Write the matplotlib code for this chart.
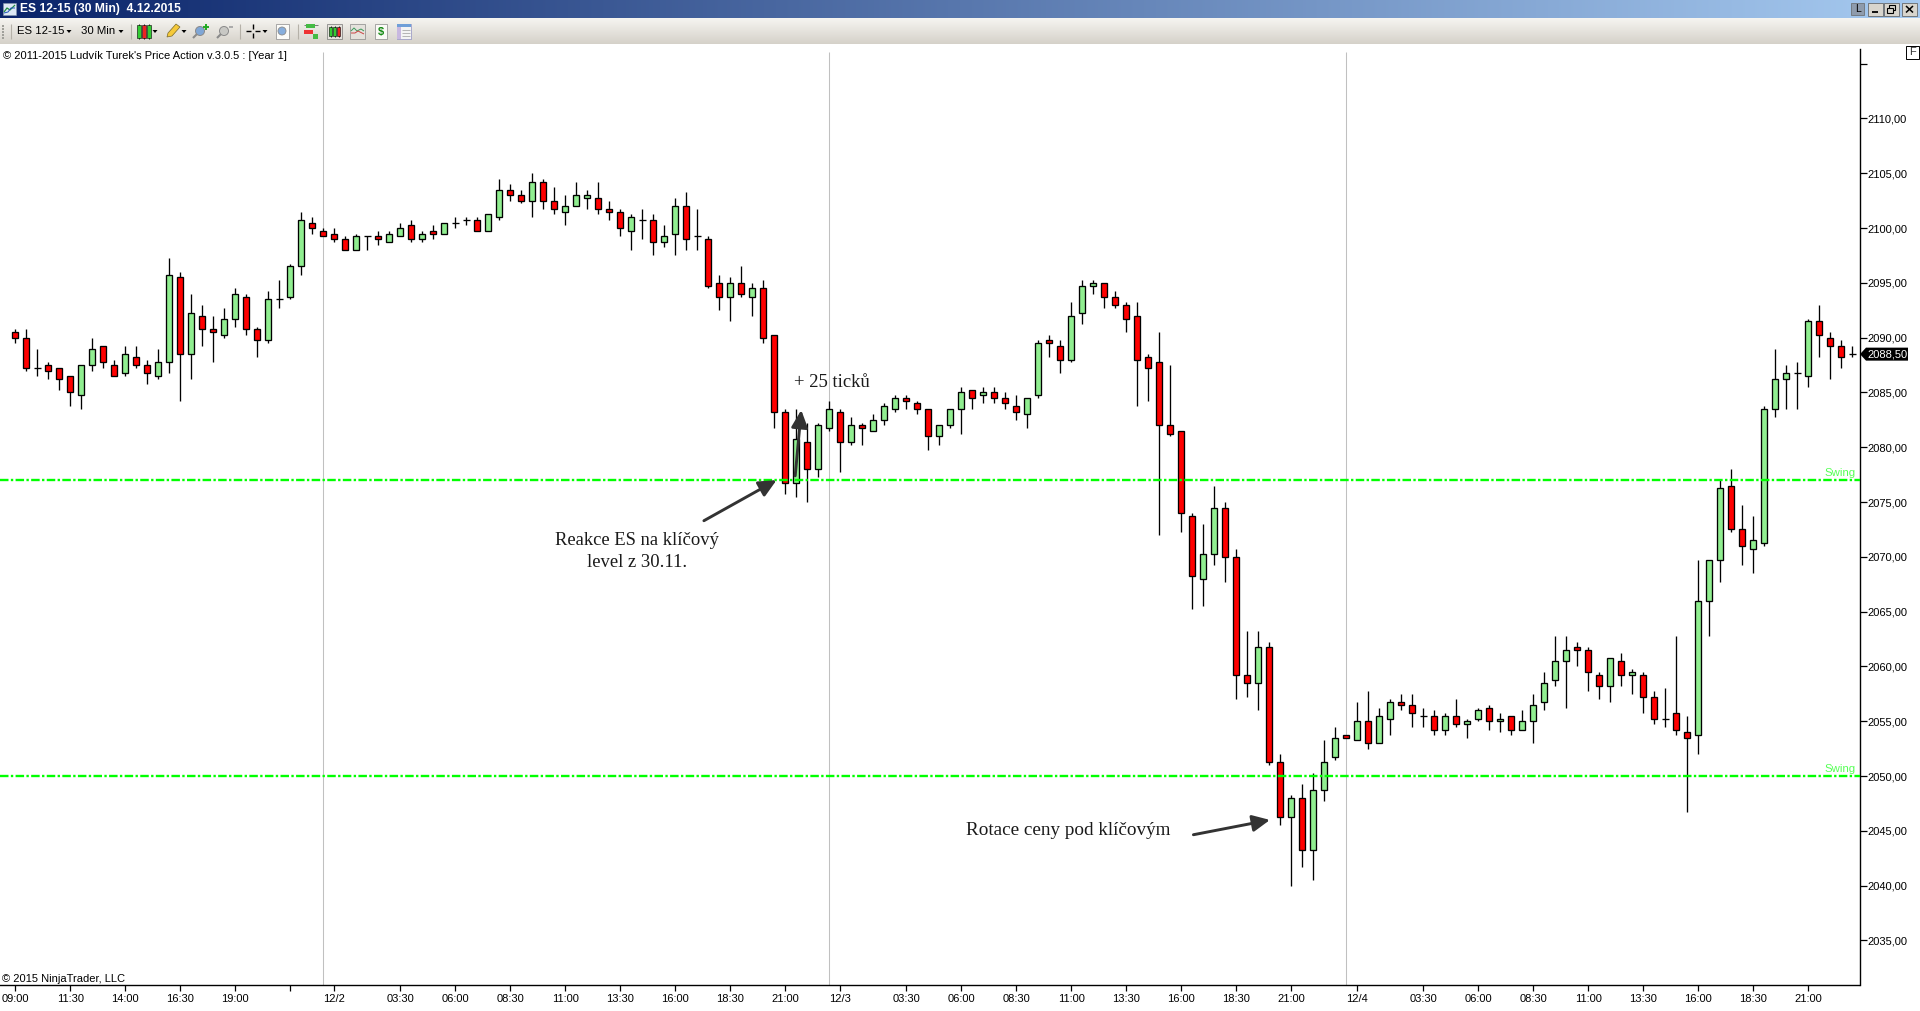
import numpy as np
import matplotlib
matplotlib.use("Agg")
import matplotlib.pyplot as plt
from matplotlib.patches import Circle, Polygon, Rectangle

plt.rcParams["font.family"] = ["Liberation Sans", "DejaVu Sans"]

# ---- Candles (price, tick size 0.25)
opens = [
    2090.5, 2090, 2087.25, 2087.5, 2087.25, 2086.5, 2084.75, 2087.5, 2089.25, 2087.5,
    2086.75, 2088.25, 2087.5, 2086.5, 2087.75, 2095.5, 2088.5, 2092, 2090.75, 2090.25,
    2091.75, 2093.75, 2090.75, 2089.75, 2093.5, 2093.75, 2096.5, 2100.5, 2099.75, 2099.5,
    2099, 2098, 2099.25, 2099.25, 2098.75, 2099.25, 2100.25, 2099, 2099.75, 2099.5,
    2100.5, 2100.75, 2100.75, 2099.75, 2101, 2103.5, 2103, 2102.5, 2104.25, 2102.5,
    2101.5, 2102, 2102.75, 2102.75, 2101.75, 2101.5, 2099.75, 2100.75, 2100.75, 2098.75,
    2099.5, 2102, 2099.25, 2099, 2095, 2093.75, 2095, 2093.75, 2094.5, 2090.25,
    2083.25, 2076.75, 2080.5, 2078, 2081.75, 2083.25, 2080.5, 2082, 2081.5, 2082.5,
    2083.5, 2084.5, 2084, 2083.5, 2081, 2082, 2083.5, 2085.25, 2084.75, 2085,
    2084.5, 2083.75, 2083, 2084.75, 2089.75, 2089.25, 2088, 2092.25, 2094.75, 2095,
    2093.75, 2093, 2092, 2088.25, 2087.75, 2082, 2081.5, 2073.75, 2068, 2070.25,
    2074.5, 2070, 2059.25, 2058.5, 2061.75, 2051.25, 2046.25, 2048, 2043.25, 2048.75,
    2051.75, 2053.75, 2053.25, 2055, 2053, 2055.25, 2056.75, 2056.5, 2055.5, 2055.5,
    2054.25, 2055.5, 2054.75, 2055.25, 2056.25, 2055, 2055.5, 2054.25, 2055, 2056.75,
    2058.75, 2060.5, 2061.75, 2061.5, 2059.25, 2058.25, 2060.5, 2059.25, 2059.25, 2057.25,
    2055.25, 2055.75, 2054, 2053.75, 2066, 2069.75, 2076.5, 2072.5, 2070.75, 2071.25,
    2083.5, 2086.25, 2086.75, 2086.5, 2091.5, 2090, 2089.25, 2088.5,
]
closes = [
    2090, 2087.25, 2087.25, 2087, 2086.25, 2085, 2087.5, 2089, 2087.75, 2086.5,
    2088.5, 2087.5, 2086.75, 2087.75, 2095.75, 2088.5, 2092.25, 2090.75, 2090.5, 2091.75,
    2094, 2090.75, 2089.75, 2093.5, 2093.5, 2096.5, 2100.75, 2100, 2099.25, 2099,
    2098, 2099.25, 2099.25, 2099, 2099.5, 2100, 2099, 2099.5, 2099.5, 2100.5,
    2100.5, 2100.75, 2099.75, 2101.25, 2103.5, 2103, 2102.5, 2104.25, 2102.5, 2101.75,
    2102, 2103, 2103, 2101.75, 2101.5, 2100, 2101, 2100.75, 2098.75, 2099.25,
    2102, 2099, 2099.25, 2094.75, 2093.75, 2095, 2094, 2094.5, 2090, 2083.25,
    2076.75, 2080.75, 2078, 2082, 2083.5, 2080.5, 2082, 2081.75, 2082.5, 2083.75,
    2084.5, 2084.25, 2083.5, 2081, 2082, 2083.5, 2085, 2084.5, 2085, 2084.5,
    2084, 2083.25, 2084.5, 2089.5, 2089.5, 2088, 2092, 2094.75, 2095, 2093.75,
    2093, 2091.75, 2088, 2087.25, 2082, 2081.25, 2074, 2068.25, 2070.25, 2074.5,
    2070, 2059.25, 2058.5, 2061.75, 2051.25, 2046.25, 2048, 2043.25, 2048.75, 2051.25,
    2053.5, 2053.5, 2055, 2053, 2055.5, 2056.75, 2056.5, 2055.75, 2055.5, 2054.25,
    2055.5, 2054.75, 2055, 2056, 2055, 2055.25, 2054.25, 2055, 2056.5, 2058.5,
    2060.5, 2061.5, 2061.5, 2059.5, 2058.25, 2060.75, 2059.25, 2059.5, 2057.25, 2055.25,
    2055.25, 2054.25, 2053.5, 2066, 2069.75, 2076.25, 2072.5, 2071, 2071.5, 2083.5,
    2086.25, 2086.75, 2086.75, 2091.5, 2090.25, 2089.25, 2088.25, 2088.5,
]
highs = [
    2090.75, 2090.75, 2089, 2087.75, 2087.25, 2086.5, 2087.5, 2090, 2089.25, 2088,
    2089.25, 2089.25, 2088, 2089, 2097.25, 2096, 2094, 2093, 2092, 2092.75,
    2094.5, 2094, 2091, 2094.25, 2095.25, 2096.75, 2101.5, 2101, 2100, 2100,
    2099.25, 2099.5, 2099.25, 2099.75, 2099.75, 2100.5, 2100.75, 2099.75, 2100.25, 2100.5,
    2101, 2101, 2101, 2101.25, 2104.5, 2104, 2103.5, 2105, 2104.5, 2103.75,
    2103, 2104.25, 2103.5, 2104.25, 2102.5, 2101.75, 2101.25, 2101.75, 2101.25, 2100.25,
    2102.75, 2103.25, 2101.75, 2099.25, 2095.75, 2095.5, 2096.5, 2095, 2095.25, 2090.25,
    2083.5, 2083.5, 2082.25, 2082.25, 2084.25, 2083.5, 2082.75, 2082.25, 2083, 2084,
    2084.75, 2084.75, 2084.25, 2083.5, 2082, 2083.5, 2085.5, 2085.25, 2085.5, 2085.5,
    2085, 2084.75, 2084.5, 2089.75, 2090.25, 2089.75, 2093.25, 2095.25, 2095.25, 2095,
    2094.25, 2093.25, 2093.25, 2088.5, 2090.5, 2087.5, 2081.5, 2074, 2073, 2076.5,
    2075, 2070.75, 2063.25, 2063.25, 2062.25, 2052, 2048.25, 2049.25, 2050.25, 2053.25,
    2054.5, 2053.75, 2056.75, 2057.75, 2056.25, 2057, 2057.5, 2057.5, 2056.25, 2056,
    2055.75, 2057, 2055.25, 2056.25, 2056.5, 2055.75, 2055.5, 2056, 2057.5, 2059.5,
    2062.75, 2062.75, 2062.25, 2061.75, 2059.5, 2060.75, 2061.25, 2059.75, 2059.5, 2057.75,
    2058, 2062.75, 2055.5, 2069.75, 2069.75, 2077, 2078, 2074.75, 2073.75, 2083.75,
    2089, 2087.5, 2087.75, 2091.75, 2093, 2090.5, 2089.75, 2089.25,
]
lows = [
    2089.5, 2087, 2086.5, 2086.25, 2085.25, 2083.75, 2083.5, 2087, 2087.25, 2086.5,
    2086.5, 2087.25, 2085.75, 2086.25, 2086.75, 2084.25, 2086.25, 2089.25, 2087.75, 2090,
    2091, 2090.25, 2088.25, 2089.5, 2092.75, 2093.5, 2095.75, 2099.5, 2099.25, 2098.75,
    2098, 2098, 2098, 2098.5, 2098.75, 2099.25, 2098.75, 2098.75, 2099, 2099.5,
    2100, 2100.25, 2099.75, 2099.75, 2100.75, 2102.5, 2102.25, 2101, 2101.75, 2101.25,
    2100.25, 2102, 2101.75, 2101.25, 2100.75, 2099.25, 2098, 2099, 2097.5, 2098.25,
    2097.5, 2098, 2098, 2094.5, 2092.5, 2091.5, 2093.75, 2092, 2089.5, 2081.75,
    2075.75, 2075.5, 2075, 2077.25, 2081.5, 2077.75, 2080.25, 2080.25, 2081.5, 2082,
    2083.25, 2083.5, 2083, 2079.75, 2080.25, 2081.75, 2081.25, 2083.5, 2084, 2084,
    2083.5, 2082.5, 2081.75, 2084.5, 2088.25, 2086.75, 2087.75, 2091.25, 2094, 2092.75,
    2092.75, 2090.5, 2083.75, 2084.25, 2072, 2081, 2072.25, 2065.25, 2065.5, 2069.25,
    2067.75, 2057, 2057.25, 2056, 2051, 2045.5, 2040, 2041.75, 2040.5, 2047.75,
    2051.5, 2053.5, 2053.25, 2052.5, 2053, 2053.75, 2056, 2054.5, 2054.5, 2053.75,
    2053.75, 2054.5, 2053.5, 2055, 2054.25, 2054, 2053.75, 2054.25, 2053, 2056,
    2058.25, 2056.25, 2060, 2057.75, 2057, 2056.75, 2058.25, 2057.5, 2055.75, 2054.75,
    2054.5, 2053.75, 2046.75, 2052, 2062.75, 2067.75, 2072.25, 2069.25, 2068.5, 2071,
    2082.75, 2083.5, 2083.5, 2085.5, 2088.25, 2086.25, 2087.25, 2088.25,
]

swing_levels = [2077, 2050]
session_breaks = [28, 74, 121]
last_price = 2088.5

x_tick_idx = [0, 5, 10, 15, 20, 25, 29, 35, 40, 45, 50, 55, 60, 65, 70, 75, 81, 86, 91, 96,
              101, 106, 111, 116, 122, 128, 133, 138, 143, 148, 153, 158, 163]
x_tick_labels = ["09:00", "11:30", "14:00", "16:30", "19:00", "", "12/2", "03:30", "06:00",
                 "08:30", "11:00", "13:30", "16:00", "18:30", "21:00", "12/3", "03:30",
                 "06:00", "08:30", "11:00", "13:30", "16:00", "18:30", "21:00", "12/4",
                 "03:30", "06:00", "08:30", "11:00", "13:30", "16:00", "18:30", "21:00"]
y_ticks = np.arange(2035, 2120, 5)

W, H = 1920, 1011
GREEN = "#90EE90"
RED = "#FF0000"
LIME = "#00FF00"

fig = plt.figure(figsize=(W / 100, H / 100), dpi=100, facecolor="white")

# ---- Price panel
ax_l, ax_r, ax_t, ax_b = 0, 1859.5, 49.5, 985.3
ax = fig.add_axes([ax_l / W, 1 - ax_b / H, (ax_r - ax_l) / W, (ax_b - ax_t) / H])
ax.set_xlim(-15.3 / 11, (ax_r - 15.3) / 11)
ax.set_ylim(2090 - (ax_b - 337.7) / 10.96, 2090 + (337.7 - ax_t) / 10.96)

o = np.array(opens)
c = np.array(closes)
hi = np.array(highs)
lo = np.array(lows)
x = np.arange(len(o))
up = c > o
down = c < o
flat = c == o

# separators start a little under the top of the price scale
ax.vlines(session_breaks, ax.get_ylim()[0], 2116.1, color="#C0C0C0", lw=0.75, zorder=1)

ax.vlines(x, lo, hi, color="black", lw=0.95, zorder=2)
ax.bar(x[up], (c - o)[up], bottom=o[up], width=0.54, color=GREEN, edgecolor="black", lw=0.95, zorder=3)
ax.bar(x[down], (o - c)[down], bottom=c[down], width=0.54, color=RED, edgecolor="black", lw=0.95, zorder=3)
ax.hlines(o[flat], x[flat] - 0.3, x[flat] + 0.3, color="black", lw=0.95, zorder=3)

for lvl in swing_levels:
    ax.axhline(lvl, color=LIME, lw=1.7, ls=(0, (3.6, 1.0, 1.0, 1.0)), zorder=4)
    ax.text(167.3, lvl + 0.2, "Swing", color="#55FF55", fontsize=8.2, ha="right", va="bottom", zorder=4)

for side in ("left", "top"):
    ax.spines[side].set_visible(False)
for side in ("right", "bottom"):
    ax.spines[side].set_linewidth(1.0)

ax.yaxis.tick_right()
ax.set_yticks(y_ticks)
ax.set_yticklabels([f"{v:.2f}".replace(".", ",") if v < 2115 else "" for v in y_ticks])
ax.tick_params(axis="y", length=5, width=0.9, pad=0.8, labelsize=8)
ax.set_xticks(x_tick_idx)
ax.set_xticklabels(x_tick_labels)
ax.tick_params(axis="x", length=4.5, width=0.9, pad=1.5, labelsize=8)

# ---- Hand drawn annotations
arrow_props = dict(arrowstyle="-|>,head_length=10.5,head_width=5", mutation_scale=1, lw=2.1,
                   color="#333333", shrinkA=0, shrinkB=0)
ax.annotate("", xy=(69.2, 2077.0), xytext=(62.6, 2073.3), arrowprops=arrow_props, zorder=6)
ax.annotate("", xy=(71.45, 2083.4), xytext=(70.9, 2077.4), arrowprops=arrow_props, zorder=6)
ax.annotate("", xy=(114.06, 2046.0), xytext=(107.1, 2044.65), arrowprops=arrow_props, zorder=6)

note = dict(family="Liberation Serif", color="#1A1A1A", zorder=6)
ax.text(56.55, 2070.5, "Reakce ES na klíčový\nlevel z 30.11.", ha="center", va="center", linespacing=1.36,
        fontsize=13.4, **note)
ax.text(70.75, 2085.88, "+ 25 ticků", ha="left", va="center", fontsize=13.4, **note)
ax.text(86.4, 2045.05, "Rotace ceny pod klíčovým", ha="left", va="center", fontsize=13.75, **note)

# ---- Window chrome, in pixel coordinates
ui = fig.add_axes([0, 0, 1, 1], zorder=10)
ui.patch.set_alpha(0)
ui.axis("off")


def gradient(x0, x1, y0, y1, c0, c1, horizontal=False):
    a = np.array(matplotlib.colors.to_rgb(c0))
    b = np.array(matplotlib.colors.to_rgb(c1))
    t = np.linspace(0, 1, 256)[:, None]
    img = (a + (b - a) * t)[None, :, :] if horizontal else (a + (b - a) * t)[:, None, :]
    ui.imshow(img, extent=(x0, x1, y1, y0), aspect="auto", zorder=1, interpolation="bilinear")


def rect(x0, y0, w, h, fc="none", ec="none", lw=0.7, z=3):
    ui.add_patch(Rectangle((x0, y0), w, h, fc=fc, ec=ec, lw=lw, zorder=z))


def line(xs, ys, color="black", lw=0.8, z=3):
    ui.plot(xs, ys, color=color, lw=lw, zorder=z, solid_capstyle="butt")


def drop(x0, y0):
    ui.add_patch(Polygon([(x0 - 2.5, y0 - 1), (x0 + 2.5, y0 - 1), (x0, y0 + 2)], fc="black", ec="none", zorder=3))


def mini_candles(x0, y0, cols, w=4, h=13, gap=5):
    for i, col in enumerate(cols):
        line([x0 + 2 + i * gap] * 2, [y0 - 1, y0 + h + 1], "black", 0.6)
        rect(x0 + i * gap, y0, w, h, fc=col, ec="black", lw=0.4)


gradient(0, W, 0, 18, "#0A246A", "#A6CAF0", horizontal=True)
gradient(0, W, 18, 44, "#F6F5F1", "#D5D1C9")

# title bar
rect(3, 3, 13, 12, fc="#DDE8F4", ec="#8899AA", lw=0.4)
line([4, 7, 10, 15], [12, 8, 10, 5], "#1E8E3E", 0.9)
line([4, 8, 11, 15], [13, 12, 8, 8], "#2255BB", 0.7)
ui.text(20, 9.3, "ES 12-15 (30 Min)  4.12.2015", color="white", fontsize=8.7, weight="bold", va="center", ha="left", zorder=4)
rect(1851, 3, 13, 12, fc="#8E9BAC", ec="#666666", lw=0.5)
ui.text(1857.5, 9.3, "L", fontsize=7.5, color="black", ha="center", va="center", zorder=4)
for bx in (1868, 1884, 1902):
    rect(bx, 2.5, 15, 13, fc="#D8D5CD", ec="#555555", lw=0.5)
line([1872, 1878], [12, 12], "black", 1.3)
rect(1889, 5, 6, 5, fc="none", ec="black", lw=0.8, z=4)
rect(1887, 7.5, 6, 5, fc="#D8D5CD", ec="black", lw=0.8, z=4)
line([1906, 1913], [6, 12.5], "black", 1.1)
line([1906, 1913], [12.5, 6], "black", 1.1)

# toolbar
for gy in range(25, 38, 3):
    rect(2, gy, 1.5, 1.5, fc="#A0A09A")
for sx in (11, 131, 240, 298):
    line([sx, sx], [24, 39], "#B5B1A8", 0.8)
tb = dict(fontsize=8.2, color="black", va="center", ha="left", zorder=4)
ui.text(17, 31.2, "ES 12-15", **tb)
ui.text(81, 31.2, "30 Min", **tb)
for dx in (69, 121, 155, 184, 265):
    drop(dx, 31)
mini_candles(136.5, 25, ["#33CC33", "#EE2222", "#33CC33"])
ui.add_patch(Polygon([(167, 37), (168, 33), (176, 24), (180, 27), (172, 36)], fc="#F5C93A", ec="#7A6A2A", lw=0.5, zorder=3))
for mx, col in ((200, "#7FA6D6"), (224, "#C8C8C4")):
    ui.add_patch(Circle((mx, 31), 4.5, fc=col, ec="#8A8A8A", lw=0.7, zorder=3))
    line([mx - 3, mx - 7], [34, 38], "#8A8A8A", 1.5)
line([206, 206], [24, 30], "#22AA22", 1.4)
line([203, 209], [27, 27], "#22AA22", 1.4)
line([229, 233], [27, 27], "#AAAAAA", 1.4)
for seg in (([246, 251], [31, 31]), ([255, 260], [31, 31]), ([253, 253], [24, 29]), ([253, 253], [33, 38])):
    line(seg[0], seg[1], "black", 1.0)
rect(276, 24, 13, 15, fc="#FBFBF8", ec="#8A8A8A", lw=0.5)
ui.add_patch(Circle((282, 31), 4, fc="#86AEDD", ec="#8A8A8A", lw=0.6, zorder=4))
# chart type and data box icons
line([304, 318], [25, 25], "#666666", 0.6)
rect(306, 24, 9, 4, fc="#44BB44")
rect(304, 30, 9, 4, fc="#EE3333")
rect(313, 34, 5, 5, fc="#44BB44")
rect(327, 24, 15, 15, fc="#E4E2DC", ec="#777777", lw=0.5)
mini_candles(329, 27, ["#33CC33", "#33CC33", "#EE2222"], w=3, h=9, gap=4)
rect(350, 24, 15, 15, fc="#E4E2DC", ec="#888888", lw=0.5)
line([351, 354, 357, 361, 364], [31, 28, 31, 29, 31], "#3C9C5C", 0.7)
line([351, 355, 358, 364], [33, 33, 31, 34], "#CC4444", 0.7)
rect(375, 24, 12, 15, fc="#FAFAF6", ec="#888888", lw=0.5)
ui.text(381, 31.5, "$", fontsize=8, color="#118811", weight="bold", ha="center", va="center", zorder=4)
rect(397, 24, 14, 15, fc="#F4F4F4", ec="#8E8EC0", lw=0.5)
rect(397, 24, 14, 3, fc="#6F9FD8")
rect(397, 27, 4, 12, fc="#C8B8E0")
for ly in (30, 33, 36):
    line([402, 410], [ly, ly], "#AAAAAA", 0.6)

# panel captions and last price marker
ui.text(3, 56, "© 2011-2015 Ludvík Turek's Price Action v.3.0.5 : [Year 1]", fontsize=8, ha="left", va="center", zorder=4)
ui.text(2, 979.3, "© 2015 NinjaTrader, LLC", fontsize=8, ha="left", va="center", zorder=4)
rect(1906, 46, 13, 12.5, fc="white", ec="black", lw=0.7)
ui.text(1912.5, 52.3, "F", fontsize=8, color="#333333", ha="center", va="center", zorder=4)

py = 337.7 + (2090 - last_price) * 10.96
ui.add_patch(Polygon([(1860, py), (1866, py - 6.5), (1908, py - 6.5), (1908, py + 6.5), (1866, py + 6.5)],
                     fc="black", ec="none", zorder=3))
ui.text(1867, py, f"{last_price:.2f}".replace(".", ","), color="white", fontsize=8, ha="left", va="center", zorder=4)

ui.set_xlim(0, W)
ui.set_ylim(H, 0)

fig.savefig("out.png", dpi=100)
